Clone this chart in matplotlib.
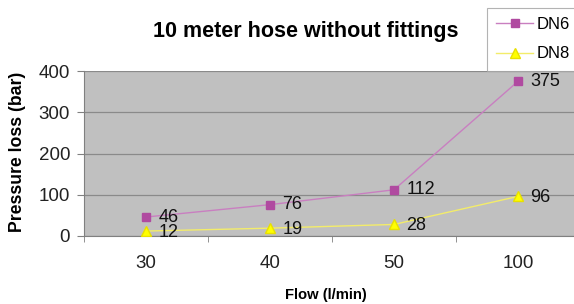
import matplotlib
matplotlib.use("Agg")
import matplotlib.pyplot as plt
from matplotlib.ticker import FixedLocator

plt.rcParams['font.family'] = ['Liberation Sans', 'DejaVu Sans']

categories = ["30", "40", "50", "100"]
dn6 = [46, 76, 112, 375]
dn8 = [12, 19, 28, 96]
series_names = ["DN6", "DN8"]
yticks = [0, 100, 200, 300, 400]

W, H = 574, 304
fig = plt.figure(figsize=(W/100, H/100), dpi=100)
fig.patch.set_facecolor("white")
ax = fig.add_axes([84/W, 1-236/H, 496/W, (236-71)/H])
ax.set_facecolor("#c0c0c0")

x = list(range(len(categories)))
l1, = ax.plot(x, dn6, color="#c97fc0", lw=1, marker="s", ms=5.5,
              mfc="#b04aa0", mec="#b04aa0", label=series_names[0], zorder=3)
l2, = ax.plot(x, dn8, color="#f3ec6a", lw=1, marker="^", ms=7,
              mfc="#ffff00", mec="#e8e000", label=series_names[1], zorder=3)

for xi, v in zip(x, dn6):
    ax.annotate(str(v), (xi, v), xytext=(9, 0), textcoords="offset points",
                fontsize=13, ha="left", va="center", color="#111111")
for xi, v in zip(x, dn8):
    ax.annotate(str(v), (xi, v), xytext=(9, -1), textcoords="offset points",
                fontsize=13, ha="left", va="center", color="#111111")

ax.set_xlim(-0.5, len(categories) - 0.5)
ax.set_ylim(0, 400)
ax.set_yticks(yticks)
ax.yaxis.grid(True, color="#8a8a8a", lw=0.9)
ax.set_axisbelow(True)
ax.set_xticks(x)
ax.set_xticklabels(categories, fontsize=13.5, color="#222222")
ax.tick_params(axis="x", length=0, pad=14)
ax.xaxis.set_minor_locator(FixedLocator([i - 0.5 for i in range(len(categories) + 1)]))
ax.tick_params(axis="x", which="minor", length=4.5, color="#808080")
ax.tick_params(axis="y", length=5, pad=5, color="#808080", labelsize=13.5, labelcolor="#222222")
for s in ["top", "right"]:
    ax.spines[s].set_visible(False)
ax.spines["left"].set_color("#808080")
ax.spines["bottom"].set_color("#808080")

fig.text(306/W, 1-32/H, "10 meter hose without fittings", ha="center", va="center",
         fontsize=15.5, fontweight="bold")
fig.text(18/W, 1-152/H, "Pressure loss (bar)", ha="center", va="center",
         rotation=90, fontsize=12.7, fontweight="bold")
fig.text(326/W, 1-295/H, "Flow (l/min)", ha="center", va="center",
         fontsize=10.6, fontweight="bold")

leg = fig.legend(handles=[l1, l2], loc="upper left", bbox_to_anchor=(487/W, 1-8/H),
                 frameon=True, fontsize=12, borderpad=0.55, labelspacing=0.85,
                 handlelength=2.2, handletextpad=0.25, borderaxespad=0,
                 fancybox=False)
leg.get_frame().set_edgecolor("#a0a0a0")
leg.get_frame().set_linewidth(0.8)

fig.savefig("out.png", dpi=100)
